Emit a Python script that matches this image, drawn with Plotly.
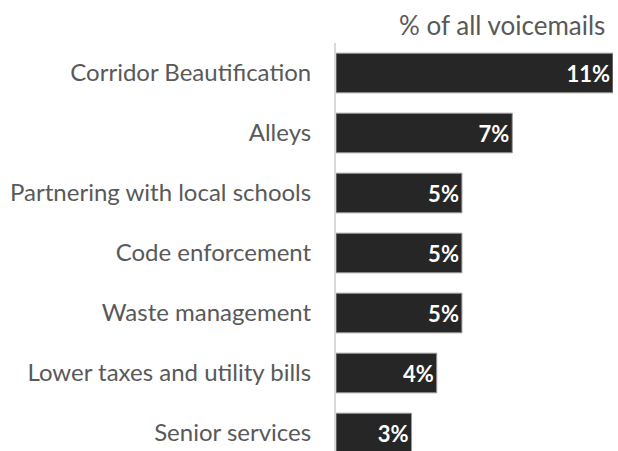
import plotly.graph_objects as go

# Share of voicemails by topic (percent)
topics = [
    "Corridor Beautification",
    "Alleys",
    "Partnering with local schools",
    "Code enforcement",
    "Waste management",
    "Lower taxes and utility bills",
    "Senior services",
]
shares = [11, 7, 5, 5, 5, 4, 3]
share_labels = [f"{v}%" for v in shares]

fig = go.Figure(
    go.Bar(
        x=shares,
        y=topics,
        orientation="h",
        text=share_labels,
        textposition="inside",
        insidetextanchor="end",
        textangle=0,
        textfont=dict(family="Lato", size=22, color="white", weight="bold"),
        marker=dict(color="#262626", line=dict(color="#9a9a9a", width=1)),
        hoverinfo="skip",
    )
)

fig.update_layout(
    width=618,
    height=451,
    margin=dict(l=336, r=5, t=43, b=0),
    paper_bgcolor="white",
    plot_bgcolor="white",
    bargap=0.34,
    showlegend=False,
    font=dict(family="Lato", color="#595959"),
    annotations=[
        dict(
            text="% of all voicemails",
            xref="paper",
            yref="paper",
            x=0.978,
            y=1,
            xanchor="right",
            yanchor="bottom",
            yshift=0,
            showarrow=False,
            font=dict(family="Lato", size=26, color="#595959"),
        )
    ],
)

fig.update_xaxes(
    range=[0, 11.0],
    showgrid=False,
    zeroline=False,
    showticklabels=False,
    showline=False,
    fixedrange=True,
)
fig.update_yaxes(
    categoryorder="array",
    categoryarray=topics,
    range=[6.3, -0.5],
    autorange=False,
    showgrid=False,
    zeroline=False,
    showline=True,
    linecolor="#d9d9d9",
    linewidth=2,
    ticks="",
    ticklabelstandoff=18,
    tickfont=dict(family="Lato", size=24, color="#595959"),
    fixedrange=True,
)

fig.write_html("out.html")
